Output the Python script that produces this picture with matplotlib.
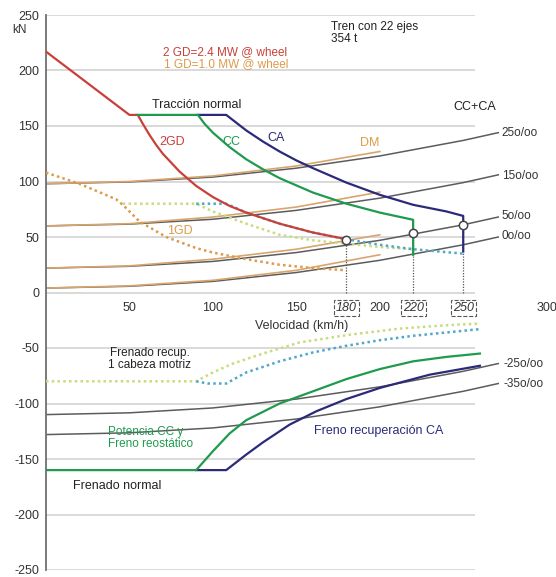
import matplotlib.pyplot as plt

plt.rcParams['font.family'] = ['Liberation Sans', 'DejaVu Sans']
plt.rcParams['axes.unicode_minus'] = False

# speed (km/h) / force (kN)
# traction curves
red_v = [0, 50, 55, 58, 62, 66, 70, 80, 90, 100, 110, 120, 140, 160, 180]
red_f = [217, 160, 160, 152, 142, 133, 125, 109, 96, 86, 78, 72, 62, 54, 48]

cc_v = [55, 91, 95, 100, 110, 120, 130, 140, 160, 180, 200, 220, 220]
cc_f = [160, 160, 152, 144, 131, 120, 111, 103, 90, 80, 72, 65.5, 34]

ca_v = [91, 108, 114, 120, 130, 140, 150, 160, 180, 200, 220, 240, 250, 250]
ca_f = [160, 160, 153, 146, 136, 127, 119, 112, 99, 88, 79, 73, 69, 37]

# one power head (dotted)
gd1_v = [0, 20, 42, 46, 56, 72, 90, 100, 120, 140, 160, 180]
gd1_f = [108, 98, 84, 79, 64, 50, 40, 36, 30, 25, 22, 20]

ccdot_v = [46, 90, 100, 120, 140, 160, 180, 200, 220]
ccdot_f = [80, 80, 73, 62, 52, 47, 44, 41, 39]

cadot_v = [90, 108, 120, 140, 160, 180, 200, 220, 250]
cadot_f = [80, 80, 72, 62, 54, 48, 43, 39, 35]

# running resistance on gradients
res_v = [0, 50, 100, 150, 200, 250, 271]
res_grades = ['25o/oo', '15o/oo', '5o/oo', '0o/oo']
res_f = [
    [98, 99.6, 104, 112, 123, 137, 144],
    [60, 61.6, 66, 74, 85, 99, 106],
    [22, 23.6, 28, 36, 47, 61, 68],
    [4, 5.6, 10, 18, 29, 43, 50],
]
dm_v = [0, 50, 100, 150, 200]
dm_f = [
    [98, 100, 105, 114, 127],
    [60, 62, 68, 77, 90.5],
    [22, 24, 30, 39, 52],
    [4, 6, 11, 20, 34],
]

# braking
brk_grades = ['-25o/oo', '-35o/oo']
brk_res_f = [
    [-110, -108.4, -104, -96, -85, -71, -64],
    [-128, -126.4, -122, -114, -103, -89, -82],
]
bcc_v = [0, 90, 100, 110, 120, 140, 160, 180, 200, 220, 240, 260]
bcc_f = [-160, -160, -143, -127, -115, -100, -89, -78, -69, -62, -58, -55]

bca_v = [90, 108, 120, 130, 146, 162, 180, 200, 230, 260]
bca_f = [-160, -160, -146, -135, -119, -107, -96, -86, -74, -66]

bccdot_v = [0, 90, 100, 112, 130, 152, 182, 212, 240, 260]
bccdot_f = [-80, -80, -72, -64, -55, -45, -38, -32.5, -29.5, -28]

bcadot_v = [90, 97, 108, 120, 140, 160, 180, 200, 220, 240, 260]
bcadot_f = [-80, -82, -82, -72, -62, -54, -48, -43, -39, -36, -33]

# max speed points on 5o/oo
vmax_v = [180, 220, 250]
vmax_f = [47.5, 54, 61]

x_ticks = [50, 100, 150, 180, 200, 220, 250, 300]
y_ticks = [-250, -200, -150, -100, -50, 0, 50, 100, 150, 200, 250]

RED = '#c8403a'
GREEN = '#1f9a4e'
NAVY = '#2b2a7a'
GREY = '#5c5c5c'
TAN = '#d9a56e'
ORANGE = '#dd9a4a'
LIME = '#c9dc7c'
CYAN = '#4fa8c8'

fig = plt.figure(figsize=(5.56, 5.77), dpi=100)
ax = fig.add_axes([46 / 556, 7 / 577, 509 / 556, 555 / 577])
ax.set_xlim(0, 305)
ax.set_ylim(-250, 250)

# grid
ax.hlines(y_ticks, 0, 257, color='#cfcfcf', lw=1.1, zorder=0)

# resistance lines
for f in res_f:
    ax.plot(res_v, f, color=GREY, lw=1.1, zorder=2)
for f in dm_f:
    ax.plot(dm_v, f, color=TAN, lw=1.2, zorder=2)
for f in brk_res_f:
    ax.plot(res_v, f, color=GREY, lw=1.1, zorder=2)

# dotted one-head curves
dot = (0, (1, 1.3))
ax.plot(gd1_v, gd1_f, color=ORANGE, lw=1.8, ls=dot, zorder=3)
ax.plot(ccdot_v, ccdot_f, color=LIME, lw=1.8, ls=dot, zorder=3)
ax.plot(cadot_v, cadot_f, color=CYAN, lw=1.8, ls=dot, zorder=3)
ax.plot(bccdot_v, bccdot_f, color=LIME, lw=1.8, ls=dot, zorder=3)
ax.plot(bcadot_v, bcadot_f, color=CYAN, lw=1.8, ls=dot, zorder=3)

# main curves
ax.plot(red_v, red_f, color=RED, lw=1.6, zorder=4)
ax.plot(ca_v, ca_f, color=NAVY, lw=1.6, zorder=4)
ax.plot(cc_v, cc_f, color=GREEN, lw=1.6, zorder=5)
ax.plot(bca_v, bca_f, color=NAVY, lw=1.6, zorder=4)
ax.plot(bcc_v, bcc_f, color=GREEN, lw=1.6, zorder=5)

# max speed markers and drop lines
ax.vlines(vmax_v, 0, vmax_f, color='#555555', lw=0.9, ls=(0, (1, 1.2)), zorder=3)
ax.plot(vmax_v, vmax_f, 'o', ms=6, mfc='white', mec='#444444', mew=1.1, zorder=6)

# axes
for s in ['top', 'right', 'bottom']:
    ax.spines[s].set_visible(False)
ax.spines['left'].set_color('#707070')
ax.spines['left'].set_linewidth(1.3)
ax.set_xticks([])
ax.set_yticks(y_ticks)
ax.tick_params(axis='y', length=0, pad=5, labelsize=9, labelcolor='#333333')

for v in x_ticks:
    if v in vmax_v:
        ax.text(v, -14, str(v), ha='center', va='center', fontsize=9, style='italic',
                color='#333333',
                bbox=dict(boxstyle='square,pad=0.15', fc='white', ec='#555555', ls='--', lw=0.8))
    else:
        ax.text(v, -14, str(v), ha='center', va='center', fontsize=9, color='#333333')

ax.text(-15.6, 236.5, 'kN', ha='center', va='center', fontsize=8.5, color='#333333')
ax.text(153, -30.5, 'Velocidad (km/h)', ha='center', va='center', fontsize=9, color='#333333')

# annotations
ax.text(171, 245, 'Tren con 22 ejes\n354 t', ha='left', va='top', fontsize=8.5,
        color='#222222', linespacing=1.0)
ax.text(107, 217, '2 GD=2.4 MW @ wheel', ha='center', va='center', fontsize=8.5, color=RED)
ax.text(108, 206, '1 GD=1.0 MW @ wheel', ha='center', va='center', fontsize=8.5, color=ORANGE)
ax.text(90, 169, 'Tracción normal', ha='center', va='center', fontsize=9, color='#222222')
ax.text(75.5, 136, '2GD', ha='center', va='center', fontsize=9, color=RED)
ax.text(111, 136, 'CC', ha='center', va='center', fontsize=9, color=GREEN)
ax.text(138, 139, 'CA', ha='center', va='center', fontsize=9, color=NAVY)
ax.text(194, 135, 'DM', ha='center', va='center', fontsize=9, color=ORANGE)
ax.text(257, 167, 'CC+CA', ha='center', va='center', fontsize=9, color='#222222')
ax.text(80, 55.5, '1GD', ha='center', va='center', fontsize=9, color=ORANGE)

grade_y = [144, 105, 69, 51]
for g, y in zip(res_grades, grade_y):
    ax.text(273, y, g, ha='left', va='center', fontsize=8.5, color='#333333')
brk_y = [-64.5, -82.4]
for g, y in zip(brk_grades, brk_y):
    ax.text(274, y, g, ha='left', va='center', fontsize=8.5, color='#333333')

ax.text(62.3, -60, 'Frenado recup.\n1 cabeza motriz', ha='center', va='center',
        fontsize=8.5, color='#222222', linespacing=1.05)
ax.text(37, -131, 'Potencia CC y\nFreno reostático', ha='left', va='center',
        fontsize=8.5, color=GREEN, linespacing=1.05)
ax.text(16.2, -174, 'Frenado normal', ha='left', va='center', fontsize=9, color='#222222')
ax.text(160.7, -124.5, 'Freno recuperación CA', ha='left', va='center', fontsize=9, color=NAVY)

fig.savefig('out.png', dpi=100)
